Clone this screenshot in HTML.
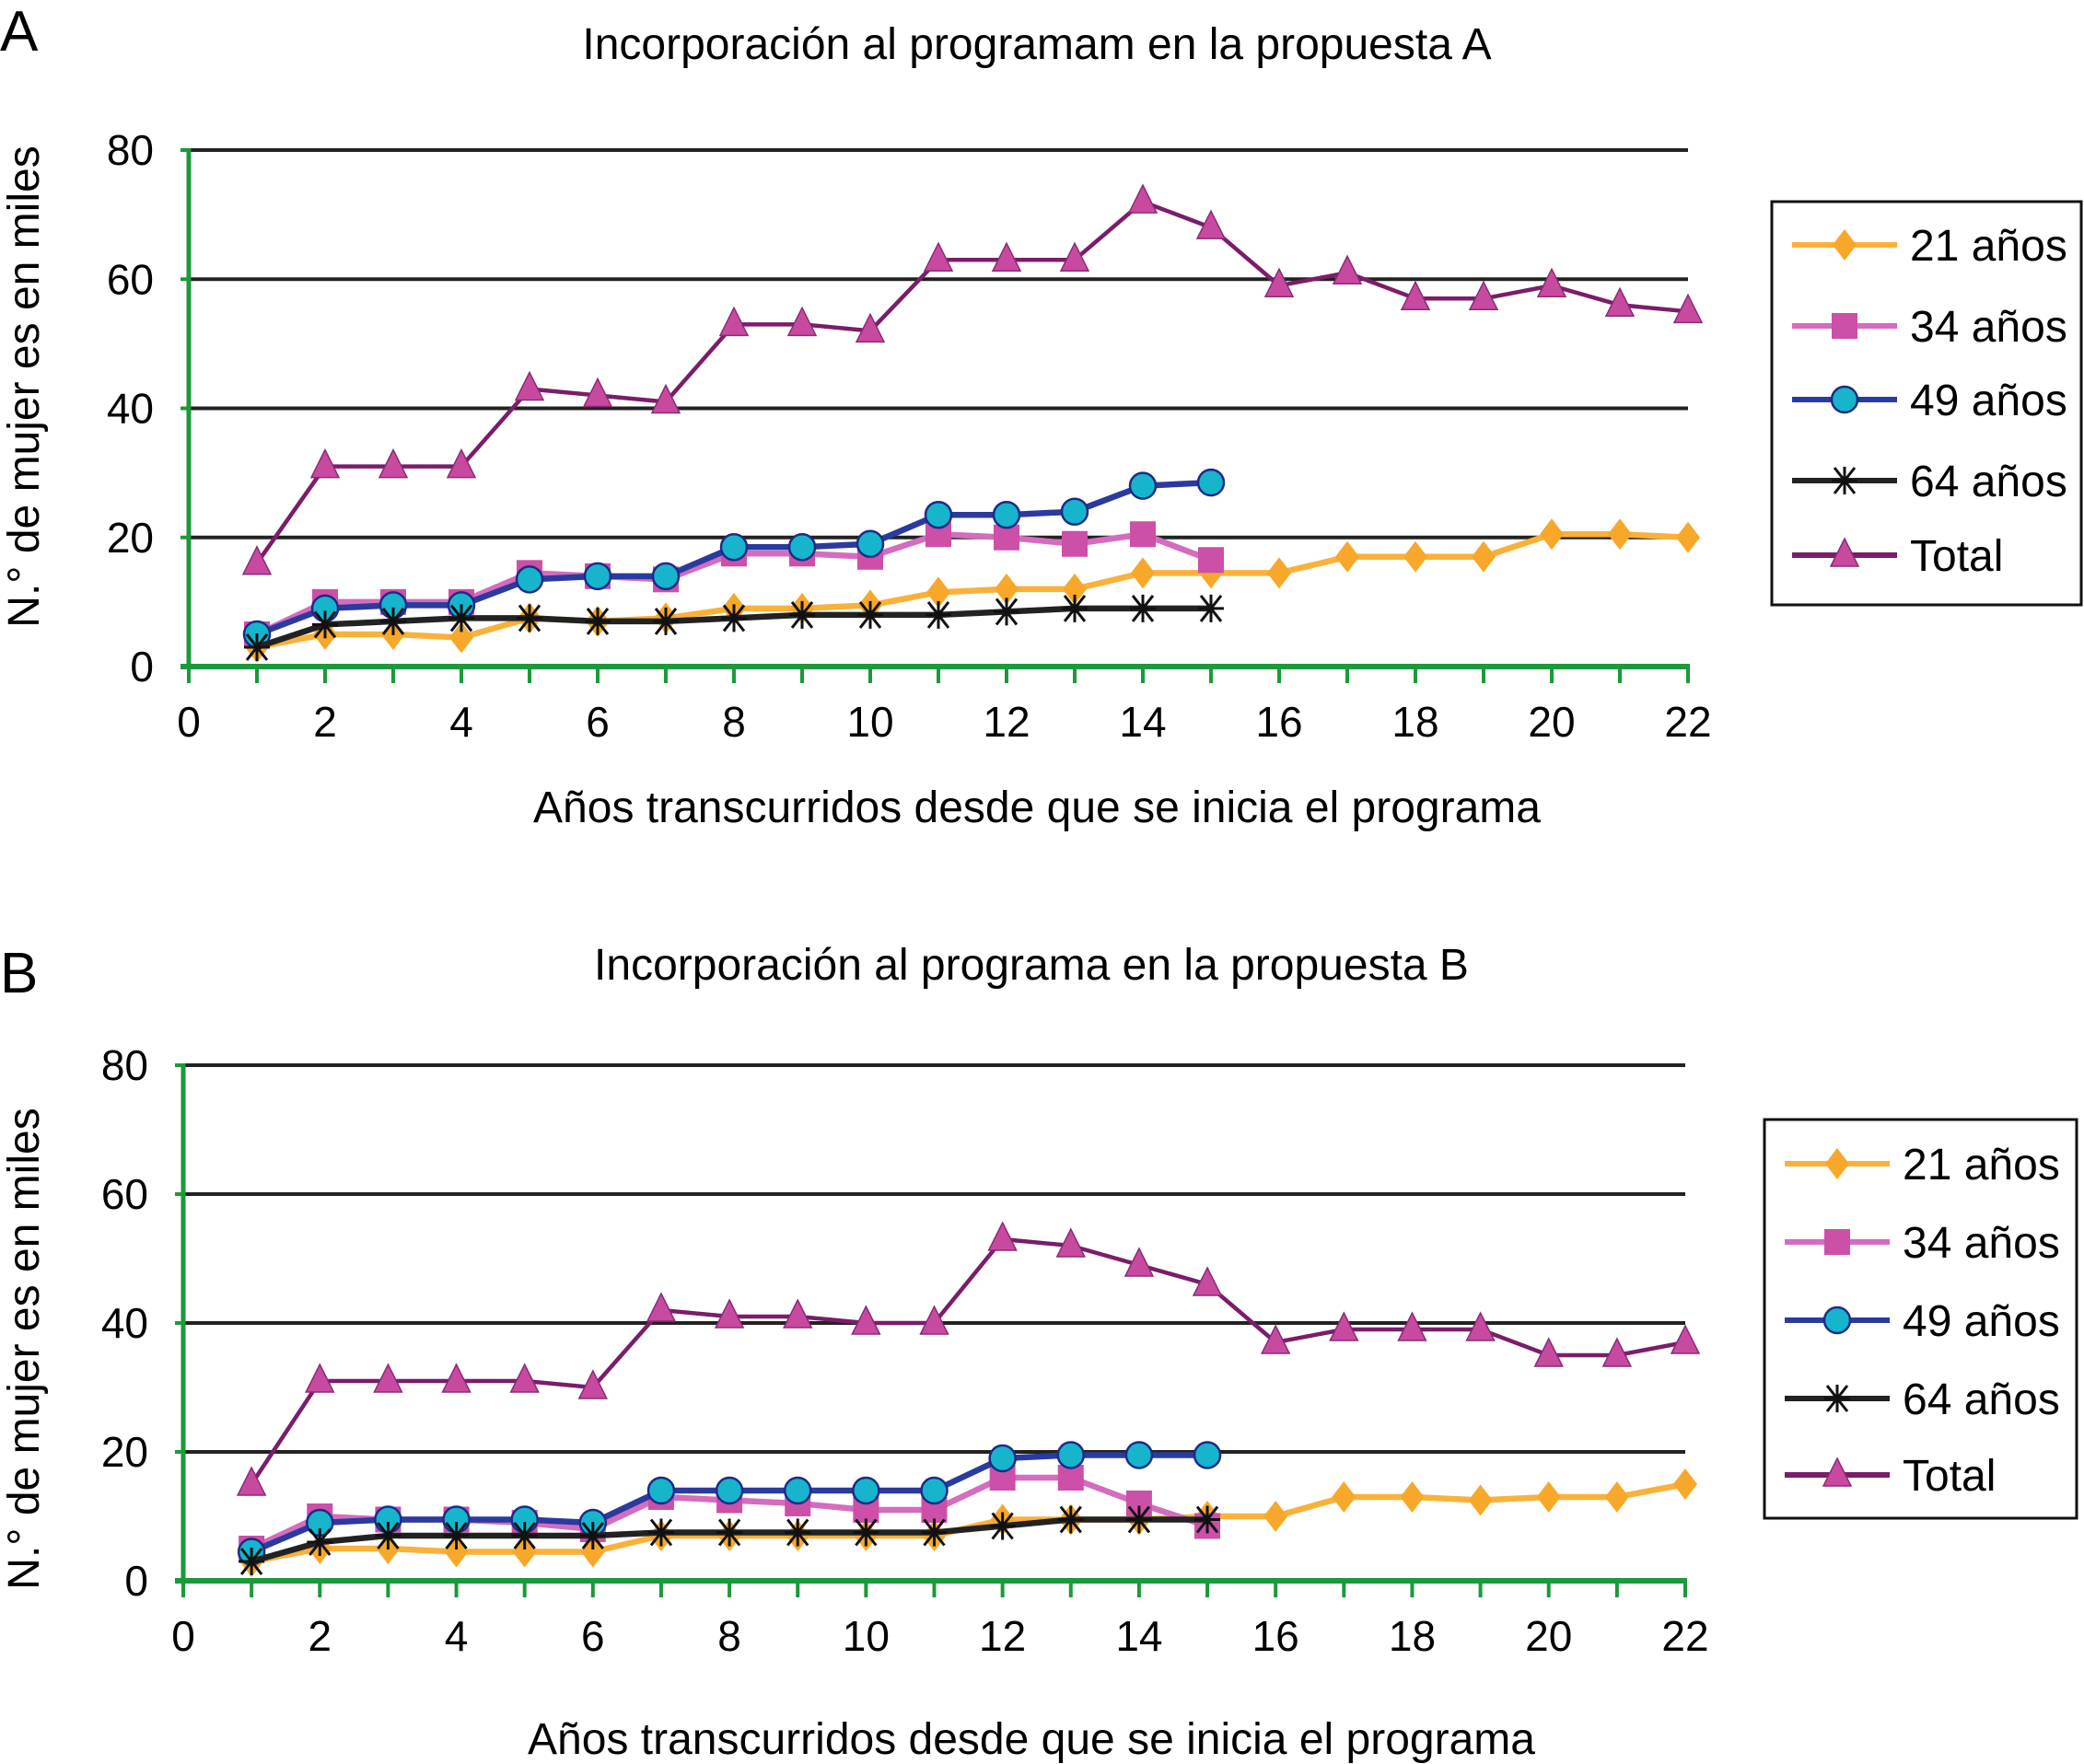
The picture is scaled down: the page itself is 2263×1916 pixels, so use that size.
<!DOCTYPE html>
<html><head><meta charset="utf-8"><style>
body{margin:0;background:#fff;}
svg{display:block;font-family:"Liberation Sans",Arial,sans-serif;}
</style></head><body>
<svg id="root" width="2263" height="1916" viewBox="0 0 2263 1916" xmlns="http://www.w3.org/2000/svg"></svg>
<script>
const years = [1,2,3,4,5,6,7,8,9,10,11,12,13,14,15,16,17,18,19,20,21,22];
const xTicks = [0,2,4,6,8,10,12,14,16,18,20,22];
const yTicks = [0,20,40,60,80];
const seriesNames = ["21 años","34 años","49 años","64 años","Total"];
// Panel A
const a21 = [3,5,5,4.5,7.5,7,7.5,9,9,9.5,11.5,12,12,14.5,14.5,14.5,17,17,17,20.5,20.5,20];
const a34 = [5,10,10,10,14.5,14,13.5,17.5,17.5,17,20.5,20,19,20.5,16.5];
const a49 = [5,9,9.5,9.5,13.5,14,14,18.5,18.5,19,23.5,23.5,24,28,28.5];
const a64 = [3,6.5,7,7.5,7.5,7,7,7.5,8,8,8,8.5,9,9,9];
const aTot = [16,31,31,31,43,42,41,53,53,52,63,63,63,72,68,59,61,57,57,59,56,55];
// Panel B
const b21 = [3,5,5,4.5,4.5,4.5,7,7,7,7,7,9.5,9.5,9.5,10,10,13,13,12.5,13,13,15];
const b34 = [5,10,9.5,9.5,9,8,13,12.5,12,11,11,16,16,12,8.5];
const b49 = [4.5,9,9.5,9.5,9.5,9,14,14,14,14,14,19,19.5,19.5,19.5];
const b64 = [3,6,7,7,7,7,7.5,7.5,7.5,7.5,7.5,8.5,9.5,9.5,9.5];
const bTot = [15,31,31,31,31,30,42,41,41,40,40,53,52,49,46,37,39,39,39,35,35,37];

const NS="http://www.w3.org/2000/svg";
const root=document.getElementById('root');
function mk(tag,attrs,parent){const e=document.createElementNS(NS,tag);for(const k in attrs)e.setAttribute(k,attrs[k]);(parent||root).appendChild(e);return e;}
const styles=[
 {color:"#f7a82a",lc:"#f9b13a",marker:"diamond"},
 {color:"#cc4fa8",lc:"#d46cbf",marker:"square"},
 {color:"#16b5cc",lc:"#2b3a9e",marker:"circle"},
 {color:"#111",lc:"#222",marker:"star"},
 {color:"#c84aa0",lc:"#7a1d6a",marker:"triangle"}];
function marker(g,type,x,y,s,st){
 let e;
 if(type==="diamond"){e=mk('polygon',{points:`${x},${y-17} ${x+13},${y} ${x},${y+17} ${x-13},${y}`,fill:st.color},g);}
 else if(type==="square"){e=mk('rect',{x:x-14,y:y-14,width:28,height:28,fill:st.color},g);}
 else if(type==="circle"){e=mk('circle',{cx:x,cy:y,r:14,fill:st.color,stroke:"#1d2a8a","stroke-width":2.5},g);}
 else if(type==="star"){e=mk('path',{d:`M${x-11} ${y-14}L${x+11} ${y+14}M${x+11} ${y-14}L${x-11} ${y+14}M${x} ${y-15}L${x} ${y+15}M${x-14} ${y}L${x+14} ${y}`,stroke:"#111","stroke-width":3,fill:"none"},g);}
 else {e=mk('polygon',{points:`${x},${y-18} ${x+15},${y+12} ${x-15},${y+12}`,fill:st.color,stroke:"#8a2a78","stroke-width":1.5},g);}
 
 
}
function panel(p){
 const g=mk('g',{});
 
 
 const xs=v=>p.x0+(p.x1-p.x0)*v/22, ys=v=>p.y0-(p.y0-p.y1)*v/80;
 let t=mk('text',{x:0,y:p.letterY,'font-size':62},g);t.textContent=p.letter;
 
 t=mk('text',{x:p.titleX,y:p.titleY,'font-size':48,'text-anchor':'middle'},g);t.textContent=p.title;
 
 t=mk('text',{x:0,y:0,'font-size':48,'text-anchor':'middle',transform:`translate(${p.ylabX},${p.ylabY}) rotate(-90)`},g);t.textContent="N.° de mujer es en miles";
 
 t=mk('text',{x:p.xtitleX,y:p.xtitleY,'font-size':48,'text-anchor':'middle'},g);t.textContent="Años transcurridos desde que se inicia el programa";
 
 yTicks.forEach(v=>{
  if(v>0){const l=mk('line',{x1:p.x0,x2:p.x1,y1:ys(v),y2:ys(v),stroke:"#222","stroke-width":4},g);
   }
  const tl=mk('line',{x1:p.x0-9,x2:p.x0,y1:ys(v),y2:ys(v),stroke:"#1a9a3a","stroke-width":4},g);
  
  const tx=mk('text',{x:p.x0-38,y:ys(v)+16,'font-size':46,'text-anchor':'end'},g);tx.textContent=v;
  
 });
 for(let i=0;i<=22;i++){const tl=mk('line',{x1:xs(i),x2:xs(i),y1:p.y0,y2:p.y0+18,stroke:"#1a9a3a","stroke-width":4},g);
  }
 xTicks.forEach(v=>{const tx=mk('text',{x:xs(v),y:p.y0+76,'font-size':46,'text-anchor':'middle'},g);tx.textContent=v;
  });
 let ax=mk('line',{x1:p.x0,x2:p.x0,y1:p.y1-2,y2:p.y0,stroke:"#1a9a3a","stroke-width":5},g);
 
 ax=mk('line',{x1:p.x0-9,x2:p.x1+2,y1:p.y0,y2:p.y0,stroke:"#1a9a3a","stroke-width":6},g);
 
 p.data.forEach((d,si)=>{
  const st=styles[si];const pts=d.map((v,i)=>xs(years[i])+','+ys(v)).join(' ');
  const l=mk('polyline',{points:pts,fill:'none',stroke:st.lc,'stroke-width':si===4?4.5:6.5,'stroke-linejoin':'round'},g);
  
  
  d.forEach((v,i)=>marker(g,st.marker,xs(years[i]),ys(v),'series',st));
 });
 const lg=mk('g',{},g);
 
 const r=mk('rect',{x:p.lx,y:p.ly,width:p.lw,height:p.lh,fill:'#fff',stroke:'#111','stroke-width':3},lg);
 
 p.ley.forEach((yy,si)=>{
  const st=styles[si];
  const e=mk('g',{},lg);
  
  mk('line',{x1:p.lx+22,x2:p.lx+136,y1:yy,y2:yy,stroke:st.lc,'stroke-width':6},e);
  marker(e,st.marker,p.lx+79,yy,'legend',st);
  const tx=mk('text',{x:p.lx+150,y:yy+17,'font-size':48},e);tx.textContent=seriesNames[si];
 });
}
panel({id:'a',letter:'A',letterY:55,title:'Incorporación al programam en la propuesta A',titleX:1126,titleY:64,
 ylabX:42,ylabY:420,xtitleX:1126,xtitleY:893,x0:205,x1:1833,y0:724,y1:163,
 data:[a21,a34,a49,a64,aTot],lx:1924,ly:219,lw:336,lh:438,ley:[266,354,434,522,603]});
panel({id:'b',letter:'B',letterY:1078,title:'Incorporación al programa en la propuesta B',titleX:1120,titleY:1064,
 ylabX:42,ylabY:1465,xtitleX:1120,xtitleY:1905,x0:199,x1:1830,y0:1717,y1:1157,
 data:[b21,b34,b49,b64,bTot],lx:1916,ly:1216,lw:339,lh:433,ley:[1264,1349,1434,1519,1602]});
</script>
</body></html>
